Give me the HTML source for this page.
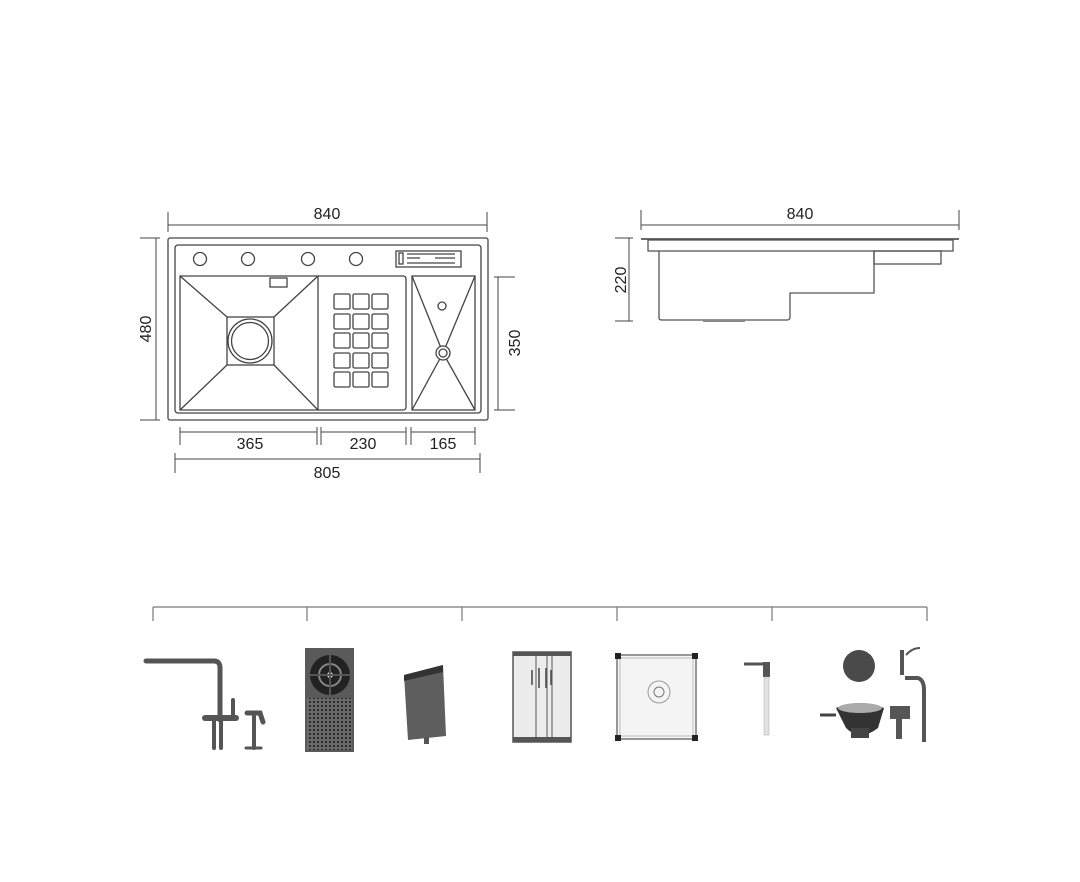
<!DOCTYPE html>
<html><head><meta charset="utf-8"><style>
html,body{margin:0;padding:0;background:#fff;}
svg{display:block;}
text{font-family:"Liberation Sans",sans-serif;font-size:16px;fill:#222;}
</style></head><body>
<svg width="1080" height="882" viewBox="0 0 1080 882" xmlns="http://www.w3.org/2000/svg">
<defs>
<pattern id="dots" width="4" height="4" patternUnits="userSpaceOnUse"><rect width="4" height="4" fill="#6a6a6a"/><rect x="1" y="1" width="2" height="2" fill="#2a2a2a"/></pattern>
</defs>
<rect width="1080" height="882" fill="#fff"/>
<g fill="none" stroke="#444" stroke-width="1.3">
  <rect x="168" y="238" width="320" height="182" rx="2"/>
  <rect x="175" y="245" width="306" height="168" rx="3"/>
  <circle cx="200" cy="259" r="6.5"/><circle cx="248" cy="259" r="6.5"/>
  <circle cx="308" cy="259" r="6.5"/><circle cx="356" cy="259" r="6.5"/>
  <rect x="396" y="251" width="65" height="16"/>
  <rect x="399" y="253" width="4" height="11"/>
  <line x1="407" y1="254" x2="455" y2="254"/><line x1="407" y1="258" x2="420" y2="258"/><line x1="435" y1="258" x2="455" y2="258"/><line x1="407" y1="263" x2="455" y2="263"/>
  <path d="M180 276 H318 V410 H180 Z"/>
  <path d="M318 276 H403 Q406 276 406 279 V407 Q406 410 403 410 H318"/>
  <rect x="227" y="317" width="47" height="48"/>
  <line x1="180" y1="276" x2="227" y2="317"/><line x1="318" y1="276" x2="274" y2="317"/>
  <line x1="180" y1="410" x2="227" y2="365"/><line x1="318" y1="410" x2="274" y2="365"/>
  <circle cx="250" cy="341" r="22"/><circle cx="250" cy="341" r="18.5"/>
  <rect x="270" y="278" width="17" height="9"/>
  <g>
    <rect x="334" y="294" width="16" height="15" rx="1.5"/><rect x="353" y="294" width="16" height="15" rx="1.5"/><rect x="372" y="294" width="16" height="15" rx="1.5"/>
    <rect x="334" y="314" width="16" height="15" rx="1.5"/><rect x="353" y="314" width="16" height="15" rx="1.5"/><rect x="372" y="314" width="16" height="15" rx="1.5"/>
    <rect x="334" y="333" width="16" height="15" rx="1.5"/><rect x="353" y="333" width="16" height="15" rx="1.5"/><rect x="372" y="333" width="16" height="15" rx="1.5"/>
    <rect x="334" y="353" width="16" height="15" rx="1.5"/><rect x="353" y="353" width="16" height="15" rx="1.5"/><rect x="372" y="353" width="16" height="15" rx="1.5"/>
    <rect x="334" y="372" width="16" height="15" rx="1.5"/><rect x="353" y="372" width="16" height="15" rx="1.5"/><rect x="372" y="372" width="16" height="15" rx="1.5"/>
  </g>
  <rect x="412" y="276" width="63" height="134"/>
  <line x1="412" y1="276" x2="443" y2="353"/><line x1="475" y1="276" x2="443" y2="353"/>
  <line x1="412" y1="410" x2="443" y2="353"/><line x1="475" y1="410" x2="443" y2="353"/>
  <circle cx="443" cy="353" r="7" fill="#fff"/><circle cx="443" cy="353" r="4"/>
  <circle cx="442" cy="306" r="4"/>
</g>
<g stroke="#444" stroke-width="1" fill="none">
  <line x1="168" y1="225" x2="487" y2="225"/><line x1="168" y1="212" x2="168" y2="232"/><line x1="487" y1="212" x2="487" y2="232"/>
  <line x1="156" y1="238" x2="156" y2="420"/><line x1="140" y1="238" x2="160" y2="238"/><line x1="140" y1="420" x2="160" y2="420"/>
  <line x1="498" y1="277" x2="498" y2="410"/><line x1="494" y1="277" x2="515" y2="277"/><line x1="494" y1="410" x2="515" y2="410"/>
  <line x1="180" y1="432" x2="317" y2="432"/><line x1="180" y1="427" x2="180" y2="445"/><line x1="317" y1="427" x2="317" y2="445"/>
  <line x1="321" y1="432" x2="406" y2="432"/><line x1="321" y1="427" x2="321" y2="445"/><line x1="406" y1="427" x2="406" y2="445"/>
  <line x1="411" y1="432" x2="475" y2="432"/><line x1="411" y1="427" x2="411" y2="445"/><line x1="475" y1="427" x2="475" y2="445"/>
  <line x1="175" y1="459" x2="480" y2="459"/><line x1="175" y1="453" x2="175" y2="473"/><line x1="480" y1="453" x2="480" y2="473"/>
  <line x1="641" y1="225" x2="959" y2="225"/><line x1="641" y1="210" x2="641" y2="230"/><line x1="959" y1="210" x2="959" y2="230"/>
  <line x1="629" y1="238" x2="629" y2="321"/><line x1="615" y1="238" x2="633" y2="238"/><line x1="615" y1="321" x2="633" y2="321"/>
</g>
<g fill="none" stroke="#555" stroke-width="1.3">
  <line x1="641" y1="239" x2="959" y2="239" stroke-width="1.8"/>
  <rect x="648" y="240" width="305" height="11"/>
  <path d="M659 251 V318 Q659 320 662 320 H787 Q790 320 790 317 V293 H874 V251"/>
  <rect x="874" y="251" width="67" height="13"/>
  <line x1="703" y1="321" x2="745" y2="321" stroke="#888" stroke-width="2"/>
</g>
<text x="327" y="219" text-anchor="middle">840</text>
<text x="800" y="219" text-anchor="middle">840</text>
<text x="250" y="449" text-anchor="middle">365</text>
<text x="363" y="449" text-anchor="middle">230</text>
<text x="443" y="449" text-anchor="middle">165</text>
<text x="327" y="478" text-anchor="middle">805</text>
<text transform="translate(151,329) rotate(-90)" text-anchor="middle">480</text>
<text transform="translate(520,343) rotate(-90)" text-anchor="middle">350</text>
<text transform="translate(626,280) rotate(-90)" text-anchor="middle">220</text>
<g stroke="#777" stroke-width="1.2" fill="none">
  <line x1="153" y1="607" x2="927" y2="607"/>
  <line x1="153" y1="607" x2="153" y2="621"/><line x1="307" y1="607" x2="307" y2="621"/><line x1="462" y1="607" x2="462" y2="621"/>
  <line x1="617" y1="607" x2="617" y2="621"/><line x1="772" y1="607" x2="772" y2="621"/><line x1="927" y1="607" x2="927" y2="621"/>
</g>
<!-- faucet -->
<g fill="none" stroke="#555" stroke-linecap="round">
  <path d="M146 661 H214 Q220 661 220 668 V720" stroke-width="5"/>
  <path d="M205 718 H236" stroke-width="6"/>
  <line x1="214" y1="720" x2="214" y2="748" stroke-width="4"/><line x1="221" y1="720" x2="221" y2="748" stroke-width="4"/>
  <line x1="233" y1="700" x2="233" y2="716" stroke-width="4"/>
  <path d="M247 713 H260 L263 722" stroke-width="5"/><line x1="254" y1="714" x2="254" y2="748" stroke-width="4"/>
  <line x1="246" y1="748" x2="261" y2="748" stroke-width="3"/>
</g>
<!-- rinser -->
<rect x="305" y="648" width="49" height="104" fill="#5a5a5a"/>
<rect x="307" y="698" width="45" height="52" fill="url(#dots)"/>
<circle cx="330" cy="675" r="20" fill="#222"/><circle cx="330" cy="675" r="11" fill="none" stroke="#888" stroke-width="2"/><circle cx="330" cy="675" r="3" fill="#ccc"/>
<g stroke="#555" stroke-width="2"><line x1="330" y1="655" x2="330" y2="695"/><line x1="310" y1="675" x2="350" y2="675"/></g>
<!-- soap box -->
<path d="M404 675 L443 665 L446 736 L408 740 Z" fill="#5e5e5e"/>
<path d="M404 675 L443 665 L443 672 L404 681 Z" fill="#333"/>
<rect x="424" y="737" width="5" height="7" fill="#555"/>
<!-- colander -->
<rect x="513" y="652" width="58" height="90" fill="#ececec" stroke="#555" stroke-width="1.5"/>
<rect x="513" y="652" width="58" height="4" fill="#555"/><rect x="513" y="737" width="58" height="5" fill="#555"/>
<g stroke="#888" stroke-width="1.5"><line x1="536" y1="656" x2="536" y2="737"/><line x1="547" y1="656" x2="547" y2="737"/><line x1="552" y1="656" x2="552" y2="737"/></g>
<g stroke="#444" stroke-width="1.5"><line x1="532" y1="670" x2="532" y2="685"/><line x1="539" y1="668" x2="539" y2="688"/><line x1="546" y1="668" x2="546" y2="688"/><line x1="551" y1="670" x2="551" y2="685"/></g>
<!-- grid -->
<rect x="617" y="655" width="79" height="84" fill="#f4f4f4" stroke="#777" stroke-width="1.5"/>
<rect x="620" y="658" width="73" height="78" fill="none" stroke="#bbb"/>
<g fill="#222"><rect x="615" y="653" width="6" height="6"/><rect x="692" y="653" width="6" height="6"/><rect x="615" y="735" width="6" height="6"/><rect x="692" y="735" width="6" height="6"/></g>
<circle cx="659" cy="692" r="11" fill="none" stroke="#999"/><circle cx="659" cy="692" r="5" fill="none" stroke="#777"/>
<!-- dispenser -->
<path d="M744 664 H768" stroke="#555" stroke-width="3"/>
<rect x="763" y="662" width="7" height="15" fill="#555"/>
<rect x="764" y="677" width="5" height="58" fill="#e2e2e2" stroke="#aaa" stroke-width="0.5"/>
<!-- drain set -->
<circle cx="859" cy="666" r="16" fill="#4a4a4a"/>
<path d="M836 708 Q860 698 884 708 L878 728 Q860 742 846 728 Z" fill="#333"/>
<ellipse cx="860" cy="708" rx="22" ry="5" fill="#aaa"/>
<rect x="851" y="728" width="18" height="10" fill="#444"/>
<line x1="820" y1="715" x2="836" y2="715" stroke="#444" stroke-width="3"/>
<rect x="890" y="706" width="20" height="13" fill="#555"/><rect x="896" y="719" width="6" height="20" fill="#555"/>
<path d="M902 650 V675 M905 678 H918 Q924 680 924 690 V742" fill="none" stroke="#555" stroke-width="4"/>
<path d="M906 655 Q912 648 920 648" fill="none" stroke="#555" stroke-width="2"/>
</svg>
</body></html>
